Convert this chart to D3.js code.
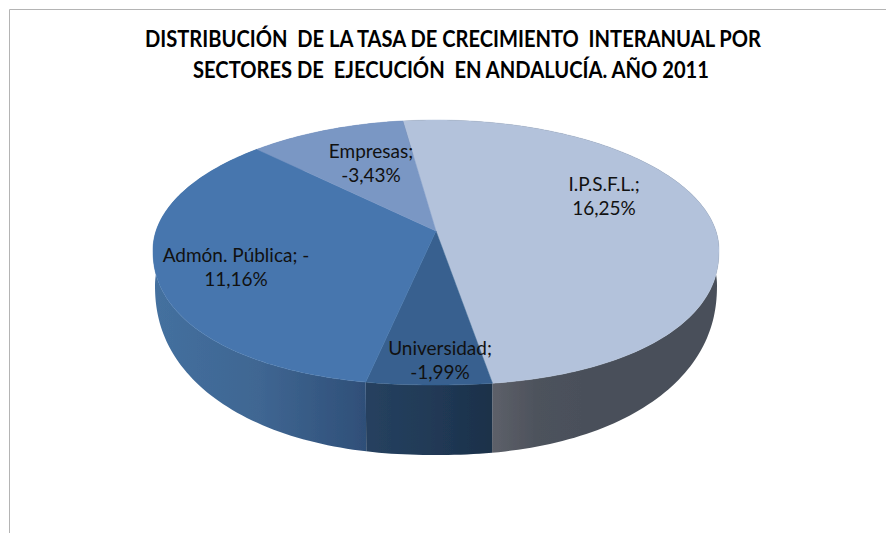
<!DOCTYPE html>
<html>
<head>
<meta charset="utf-8">
<style>
  html, body { margin: 0; padding: 0; background: #fff; }
  svg { display: block; }
</style>
</head>
<body>
<svg id="drawing_region"></svg>
<script src="https://d3js.org/d3.v7.min.js"></script>
<script>
const sectors = ['I.P.S.F.L.', 'Universidad', 'Admón. Pública', 'Empresas'];
const growth = [16.25, -1.99, -11.16, -3.43];
const labelLines = [
    ['I.P.S.F.L.;', '16,25%'],
    ['Universidad;', '-1,99%'],
    ['Admón. Pública; -', '11,16%'],
    ['Empresas;', '-3,43%']
];
const titleLines = [
    'DISTRIBUCIÓN  DE LA TASA DE CRECIMIENTO  INTERANUAL POR',
    'SECTORES DE  EJECUCIÓN  EN ANDALUCÍA. AÑO 2011'
];

const width = 886, height = 533;
const topColors = ['#b3c2db', '#37618f', '#4676ae', '#7a97c4'];
const sideColors = [
    ['#5d6069', '#4d525c', '#4a505a'],
    ['#26415f', '#213a57', '#1c3049'],
    ['#44709f', '#3f6692', '#2f4f78'],
    ['#5a79a8', '#5a79a8', '#5a79a8']
];
const labelPos = [[604, 191], [440, 355], [236, 262], [371, 158]];
const titlePos = [[453, 47, 616], [451, 78, 516]];

// tilted disc with a bit of perspective, the back edge is smaller
const persp = 0.162;
const apex = [436, 231];
const topRim = { cx: 436, cy: 250, rx: 283, back: 130, front: 135, n: 2.2 };
const bottomRim = { cx: 436, cy: 285, rx: 281, back: 130, front: 170, n: 2.2 };

function project(rim, a) {
    // perspective circle, as an offset from the middle of its outline
    const s = 1 / (1 + persp * Math.cos(a));
    const ux = 0.987 * Math.sin(a) * s;
    const uy = (-129 * Math.cos(a) * s - 21.4) / 132.5;
    // the original outline is a little fuller than an ellipse below the widest line
    const n = uy > 0 ? rim.n : 2;
    const r = Math.pow(Math.pow(Math.abs(ux), n) + Math.pow(Math.abs(uy), n), 1 / n);
    return [
        rim.cx + rim.rx * ux / r,
        rim.cy + (uy > 0 ? rim.front : rim.back) * uy / r
    ];
}

function arcPoints(rim, a0, a1) {
    const n = Math.max(2, Math.ceil(Math.abs(a1 - a0) / 0.02));
    return d3.range(n + 1).map(i => project(rim, a0 + (a1 - a0) * i / n));
}

const line = d3.line();
const svg = d3.select('#drawing_region').attr('width', width).attr('height', height);

const defs = svg.append('defs');
defs.append('filter').attr('id', 'soft')
    .attr('x', '-5%').attr('y', '-5%').attr('width', '110%').attr('height', '110%')
    .append('feGaussianBlur').attr('stdDeviation', 0.6);

svg.append('path')
    .attr('d', `M9.5,${height}V9.5H${width}`)
    .attr('fill', 'none')
    .attr('stroke', '#b4b4b4')
    .attr('stroke-width', 1);

const pie = d3.pie()
    .sort(null)
    .value(d => Math.abs(d))
    .startAngle(-0.138)
    .endAngle(2 * Math.PI - 0.138);
const slices = pie(growth);

const disc = svg.append('g').attr('filter', 'url(#soft)');

// wall gradients run left to right across the visible part of each slice
slices.forEach((d, i) => {
    const xs = arcPoints(topRim, d.startAngle, d.endAngle).map(p => p[0]);
    const g = defs.append('linearGradient')
        .attr('id', `wall${i}`)
        .attr('gradientUnits', 'userSpaceOnUse')
        .attr('x1', d3.min(xs)).attr('x2', d3.max(xs))
        .attr('y1', 0).attr('y2', 0);
    sideColors[i].forEach((c, j) => {
        g.append('stop').attr('offset', j / 2).attr('stop-color', c);
    });
});
// I.P.S.F.L. wall starts at the front seam, so fix its left edge
defs.select('#wall0')
    .attr('x1', project(topRim, slices[0].endAngle)[0])
    .attr('x2', project(topRim, slices[0].endAngle)[0] + 90);

disc.selectAll('path.wall')
    .data(slices)
    .enter()
    .append('path')
    .attr('class', 'wall')
    .attr('d', d => line(arcPoints(topRim, d.startAngle, d.endAngle)
        .concat(arcPoints(bottomRim, d.endAngle, d.startAngle))) + 'Z')
    .attr('fill', (d, i) => `url(#wall${i})`);

disc.selectAll('path.top')
    .data(slices)
    .enter()
    .append('path')
    .attr('class', 'top')
    .attr('d', d => line([apex].concat(arcPoints(topRim, d.startAngle, d.endAngle))) + 'Z')
    .attr('fill', (d, i) => topColors[i])
    .attr('stroke', (d, i) => topColors[i])
    .attr('stroke-width', 0.5);

const labels = svg.selectAll('g.label')
    .data(sectors)
    .enter()
    .append('g')
    .attr('class', 'label')
    .attr('transform', (d, i) => `translate(${labelPos[i][0]},${labelPos[i][1]})`);

labels.selectAll('text')
    .data((d, i) => labelLines[i])
    .enter()
    .append('text')
    .attr('y', (d, i) => i * 24.3)
    .attr('text-anchor', 'middle')
    .attr('font-family', 'Lato, sans-serif')
    .attr('font-size', 19)
    .attr('fill', '#111')
    .text(d => d);

svg.selectAll('text.title')
    .data(titleLines)
    .enter()
    .append('text')
    .attr('class', 'title')
    .attr('x', (d, i) => titlePos[i][0] - titlePos[i][2] / 2)
    .attr('y', (d, i) => titlePos[i][1])
    .attr('textLength', (d, i) => titlePos[i][2])
    .attr('lengthAdjust', 'spacingAndGlyphs')
    .attr('font-family', 'Lato, sans-serif')
    .attr('font-weight', 700)
    .attr('font-size', 22)
    .attr('fill', '#000')
    .style('white-space', 'pre')
    .text(d => d);
</script>
</body>
</html>
